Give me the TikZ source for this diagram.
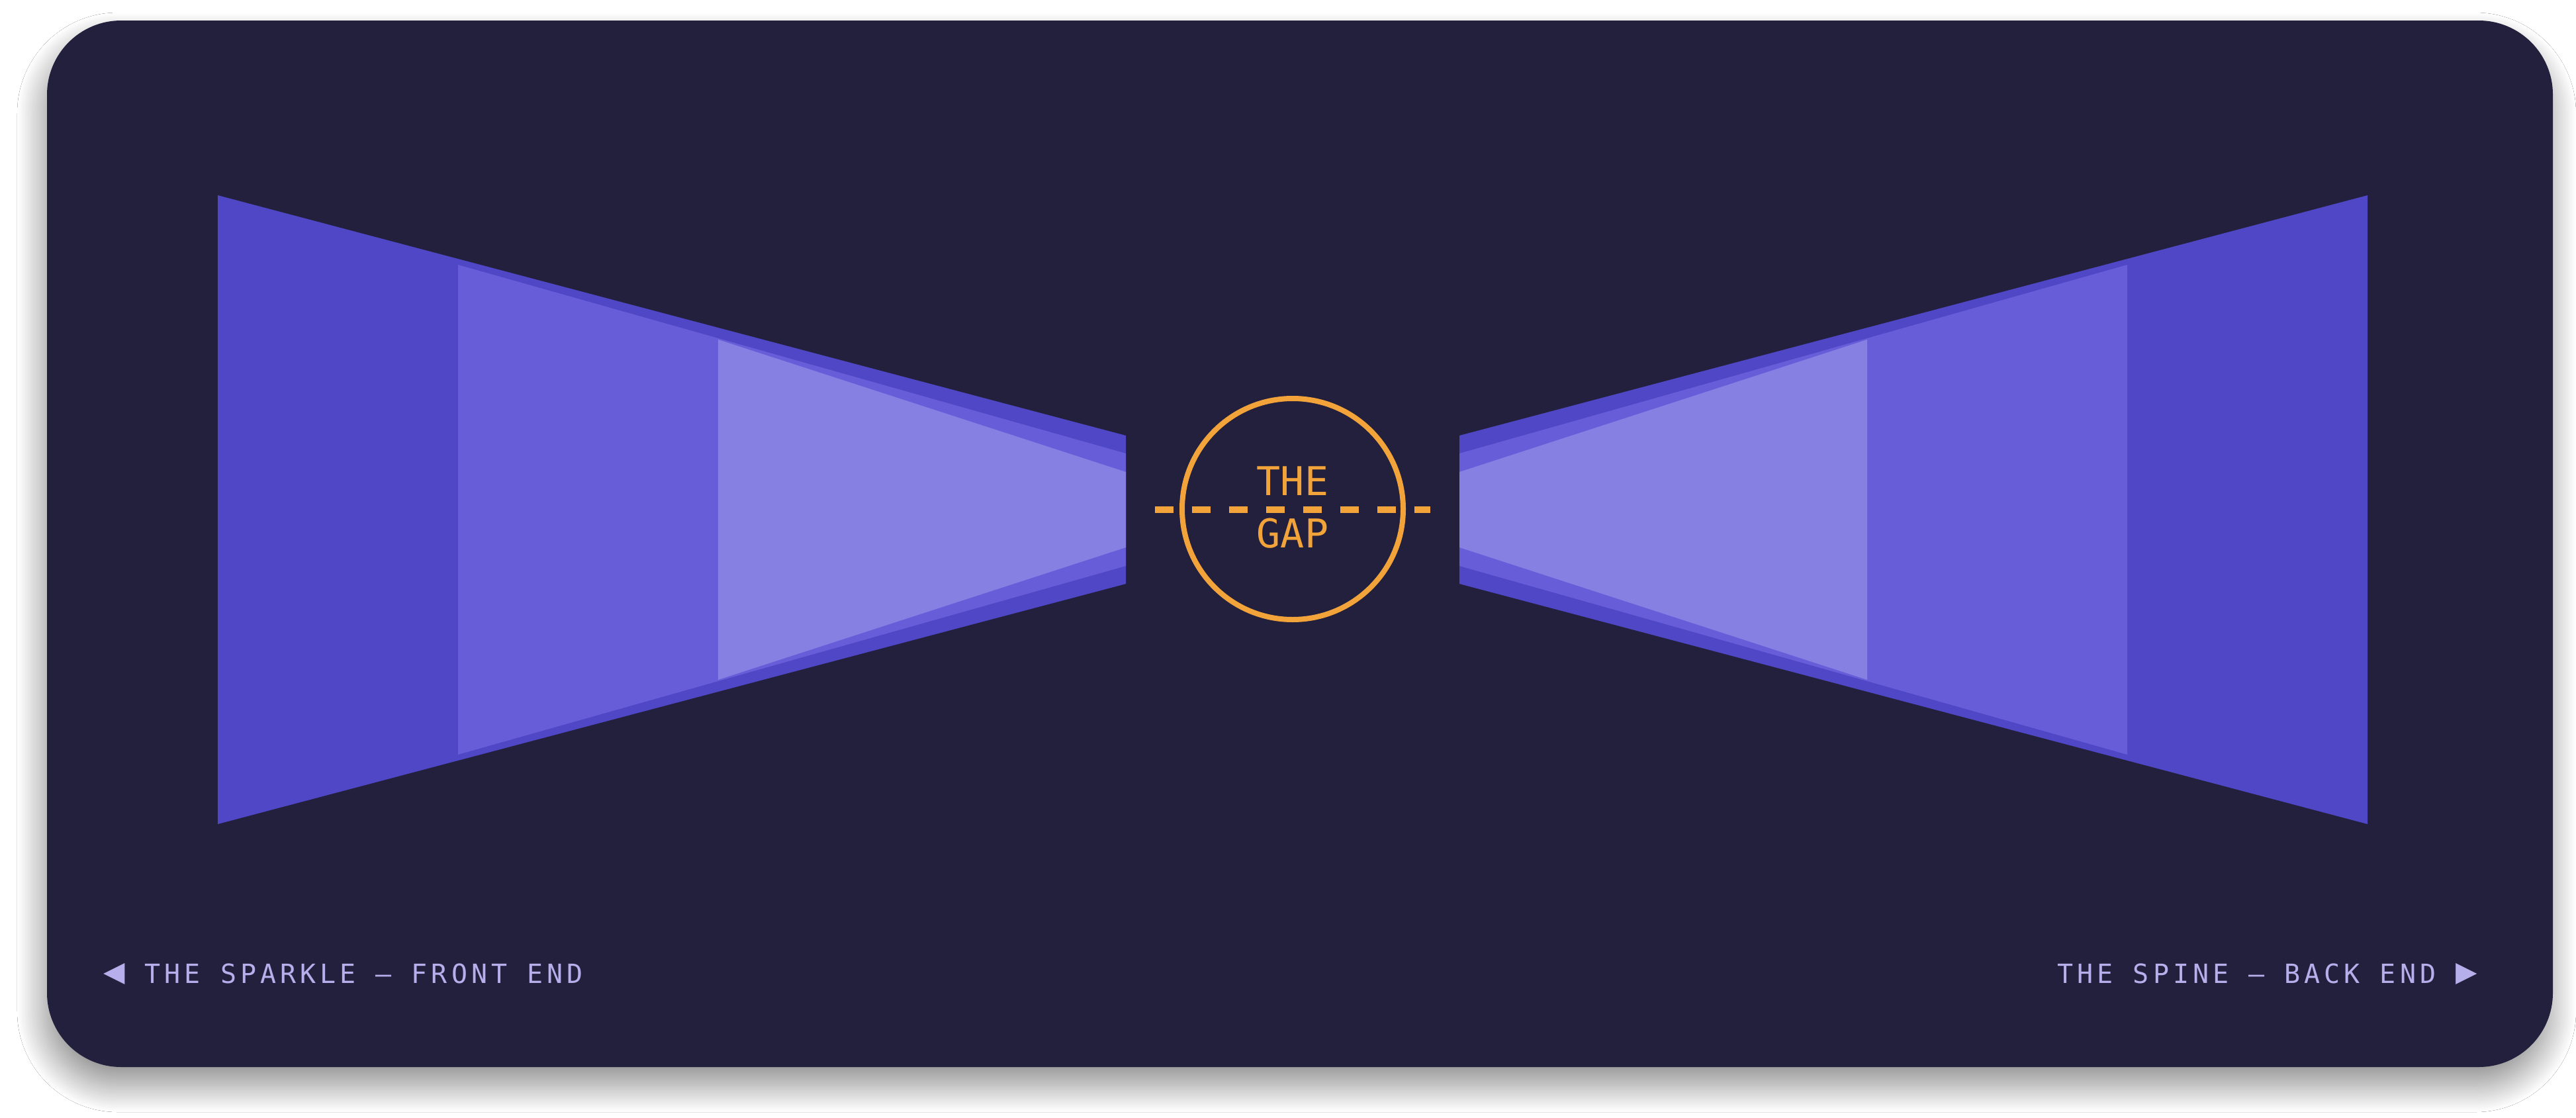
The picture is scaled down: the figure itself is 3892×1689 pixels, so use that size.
\documentclass[tikz,border=0pt]{standalone}
\usepackage{fontspec}
\newfontfamily\gapfont{DejaVu Sans Mono}
\newfontfamily\labfont[LetterSpace=15]{DejaVu Sans Mono}
\usetikzlibrary{shadows.blur}
\definecolor{cardbg}{HTML}{23203D}
\definecolor{bowdark}{HTML}{4F47C5}
\definecolor{bowmid}{HTML}{675DD8}
\definecolor{bowlight}{HTML}{8680E3}
\definecolor{gaporange}{HTML}{F2A33A}
\definecolor{lavender}{HTML}{B5B0EC}
\newcommand\drawbowhalf{%
  \fill[bowdark]  (329,295) -- (1701,658) -- (1701,882) -- (329,1245) -- cycle;
  \fill[bowmid]   (692,400) -- (1701,685) -- (1701,855) -- (692,1140) -- cycle;
  \fill[bowlight] (1085,513) -- (1701,713) -- (1701,827) -- (1085,1027) -- cycle;
}
\newcommand\bigtri[1]{{\fontsize{54pt}{48pt}\selectfont #1}}
\begin{document}
\begin{tikzpicture}[x=1pt,y=-1pt,
  labelstyle/.style={text=lavender, inner sep=0pt, font=\labfont\fontsize{40pt}{48pt}\selectfont},
  gaptext/.style={text=gaporange, inner sep=0pt, font=\gapfont\fontsize{60pt}{72pt}\selectfont}]
\useasboundingbox (0,0) rectangle (3892,1689);
\fill[white] (0,0) rectangle (3892,1689);
% card with soft shadow
\fill[cardbg, rounded corners=112pt,
  blur shadow={shadow xshift=-5pt, shadow yshift=-28pt, shadow blur radius=40pt,
    shadow opacity=45, shadow blur steps=50}]
  (71,31) rectangle (3857,1612);
% left half of the bow
\begin{scope}
  \drawbowhalf
\end{scope}
% right half (mirror about x = 1953)
\begin{scope}[xshift=3906pt, xscale=-1]
  \drawbowhalf
\end{scope}
% the gap
\node[circle, draw=gaporange, line width=8pt, minimum size=334pt, inner sep=0pt] (gap) at (1953,769) {};
\coordinate (dl) at (1745,770);
\coordinate (dr) at (2161,770);
\draw[gaporange, line width=10pt, dash pattern=on 28pt off 28pt] (dl) -- (dr);
\node[gaptext, anchor=base] (the) at (1953,748) {THE};
\node[gaptext, anchor=base] (gp) at (1953,827) {GAP};
% labels
\node[labelstyle, anchor=base west] (front) at (156,1485) {\bigtri{◀} THE SPARKLE — FRONT END};
\node[labelstyle, anchor=base east] (back) at (3743,1485) {THE SPINE — BACK END \bigtri{▶}};
\end{tikzpicture}
\end{document}
